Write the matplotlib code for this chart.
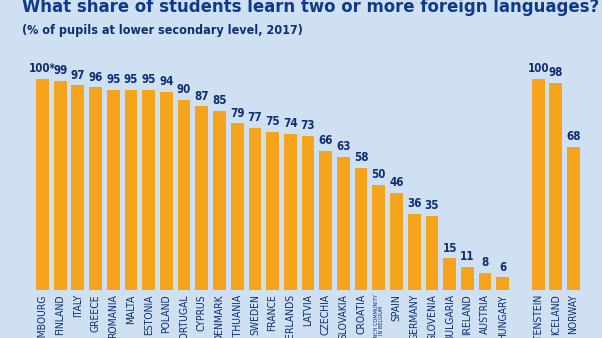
import matplotlib
matplotlib.use("Agg")
import matplotlib.pyplot as plt
import numpy as np

plt.rcParams['font.family'] = ['DejaVu Sans Condensed', 'DejaVu Sans']
plt.rcParams['font.stretch'] = 'condensed'

countries = ["LUXEMBOURG", "FINLAND", "ITALY", "GREECE", "ROMANIA", "MALTA", "ESTONIA",
             "POLAND", "PORTUGAL", "CYPRUS", "DENMARK", "LITHUANIA", "SWEDEN", "FRANCE",
             "NETHERLANDS", "LATVIA", "CZECHIA", "SLOVAKIA", "CROATIA",
             "FRENCH COMMUNITY\nIN BELGIUM", "SPAIN", "GERMANY", "SLOVENIA", "BULGARIA",
             "IRELAND", "AUSTRIA", "HUNGARY"]
values = [100, 99, 97, 96, 95, 95, 95, 94, 90, 87, 85, 79, 77, 75, 74, 73, 66, 63, 58,
          50, 46, 36, 35, 15, 11, 8, 6]
value_labels = ["100*"] + [str(v) for v in values[1:]]

efta = ["LIECHTENSTEIN", "ICELAND", "NORWAY"]
efta_values = [100, 98, 68]

bg = "#cfe0f3"
orange = "#f7a41d"
navy = "#0f2f6e"

fig = plt.figure(figsize=(6.02, 3.38), dpi=100, facecolor=bg)
ax = fig.add_axes([33.6 / 602, 1 - 290 / 338, (582.4 - 33.6) / 602, (290 - 79) / 338])
ax.set_facecolor(bg)

x_eu = np.arange(len(values))
x_efta = np.arange(len(efta_values)) + len(values) + 1
all_x = np.concatenate([x_eu, x_efta])
all_vals = values + efta_values
all_labels = value_labels + [str(v) for v in efta_values]
all_names = countries + efta

ax.bar(all_x, all_vals, width=0.72, color=orange)
for xi, v, lab in zip(all_x, all_vals, all_labels):
    ax.text(xi, v + 1.8, lab, ha="center", va="bottom", fontsize=8.3,
            fontweight="bold", color=navy)

for xi, name in zip(all_x, all_names):
    small = "\n" in name
    ax.text(xi, -2, name, rotation=90, ha="center", va="top",
            fontsize=4 if small else 7.5, color=navy,
            linespacing=1.0, clip_on=False)

ax.set_xlim(-0.5, 30.5)
ax.set_ylim(0, 100)
ax.axis("off")

fig.text(22 / 602, 1 - 12 / 338, "What share of students learn two or more foreign languages?",
         fontsize=13.2, fontweight="bold", color="#0d3a8a", va="baseline", ha="left")
fig.text(22 / 602, 1 - 34 / 338, "(% of pupils at lower secondary level, 2017)",
         fontsize=9, fontweight="bold", color=navy, va="baseline", ha="left")

fig.savefig("out.png", dpi=100, facecolor=bg)
